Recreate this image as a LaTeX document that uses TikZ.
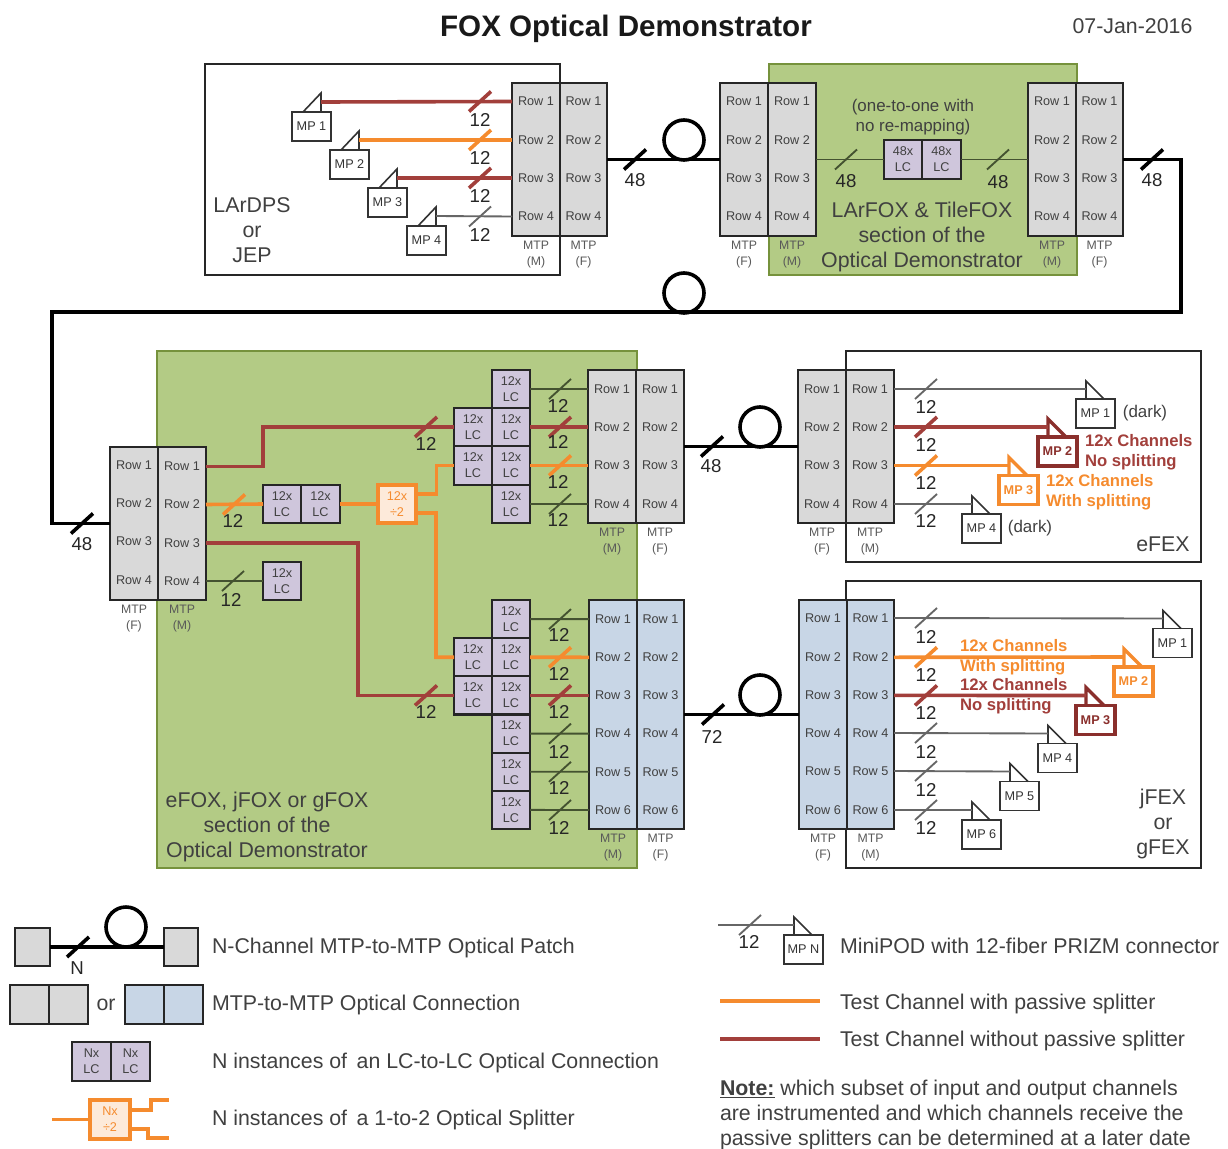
\documentclass[tikz,border=0pt]{standalone}
\usepackage{fontspec}
\setmainfont{Liberation Sans}
\definecolor{cgray}{HTML}{D9D9D9}
\definecolor{cblue}{HTML}{C8D6E6}
\definecolor{cpurp}{HTML}{CFC6DC}
\definecolor{cgreen}{HTML}{B3CB85}
\definecolor{cgreenb}{HTML}{76923C}
\definecolor{cred}{HTML}{A23F3B}
\definecolor{credd}{HTML}{8A2F2C}
\definecolor{corg}{HTML}{F58B2E}
\definecolor{corgl}{HTML}{FDEADA}
\definecolor{ctxt}{HTML}{404040}
\definecolor{cthin}{HTML}{666666}
\definecolor{cthing}{HTML}{445230}
\def\U{0.75pt}
\newcounter{lbl}
\tikzset{
  every node/.style={inner sep=0pt,outer sep=0pt,text=ctxt},
  base/.style={draw=black!85,line width=1.7pt},
  gbox/.style={base,fill=cgray},
  bbox/.style={base,fill=cblue},
  lcbox/.style={base,fill=cpurp,align=center,font=\fontsize{9.5}{12}\selectfont},
  splbox/.style={draw=corg,line width=2.3pt,fill=corgl,align=center,text=corg,font=\fontsize{9.5}{12}\selectfont},
  frame/.style={draw=black!85,line width=1.6pt},
  greenbg/.style={draw=cgreenb,line width=2pt,fill=cgreen},
  rowtxt/.style={font=\fontsize{9.5}{11}\selectfont},
  mtplab/.style={font=\fontsize{9.2}{12}\selectfont,align=center,text=black!65},
  num/.style={font=\fontsize{14}{16}\selectfont,text=black!85},
  big/.style={font=\fontsize{16}{19}\selectfont,align=center},
  body/.style={font=\fontsize{16}{18.7}\selectfont,anchor=west},
  fib/.style={line width=2.7pt,black},
  fr/.style={line width=2.7pt,cred},
  fo/.style={line width=2.7pt,corg},
  tg/.style={line width=1.4pt,cthin},
  tk/.style={line width=1.4pt,cthing},
  loopc/.style={circle,draw=black,line width=2.7pt,minimum size={40*\U}},
  mpb/.style={draw=black!80,line width=1.2pt,fill=white,font=\fontsize{9.5}{11}\selectfont,text=black!80},
  mpred/.style={draw=credd,line width=2.4pt,fill=white,font=\fontsize{9.5}{11}\selectfont\bfseries,text=credd},
  mporg/.style={draw=corg,line width=2.4pt,fill=white,font=\fontsize{9.5}{11}\selectfont\bfseries,text=corg},
  chr/.style={font=\fontsize{12.5}{15}\selectfont\bfseries,text=cred,align=left,anchor=west},
  cho/.style={font=\fontsize{12.5}{15}\selectfont\bfseries,text=corg,align=left,anchor=west},
}
% generic rectangle node by corners
\newcommand\blk[7]{\node[#6,minimum width={(#4-#2)*\U},minimum height={(#5-#3)*\U}] (#1) at ({(#2+#4)/2},{(#3+#5)/2}) {#7};}
% one half of an MTP connector
\newcommand\mtp[8]{%
  \blk{#1}{#2}{#4}{#3}{#5}{#6}{}
  \foreach \i/\yy in #7{%
    \node[rowtxt] (#1-t\i) at ({(#2+#3)/2},\yy) {Row \i};
    \coordinate (#1-l\i) at (#2,\yy);
    \coordinate (#1-r\i) at (#3,\yy);
  }
  \node[mtplab] (#1-lab) at ({(#2+#3)/2},{#5+19}) {MTP\\(#8)};
}
% MiniPOD, triangle on left of box (fibre arrives from the left)
\newcommand\mpR[5]{%
  \blk{#1}{#2}{#3}{#2+39}{#3+29}{#4}{#5}
  \coordinate (#1-in) at ({#2+10},{#3-10});
  \draw[#4,fill=none] ({#2+10},{#3}) -- ({#2+10},{#3-18}) -- ({#2+28},{#3});
}
% MiniPOD, triangle on right side (fibre leaves to the right)
\newcommand\mpL[5]{%
  \blk{#1}{#2}{#3}{#2+39}{#3+29}{#4}{#5}
  \coordinate (#1-in) at ({#2+29},{#3-10});
  \draw[#4,fill=none] ({#2+29},{#3}) -- ({#2+29},{#3-19}) -- ({#2+11},{#3});
}
% bundle mark with count
\newcommand\fibm[6]{%
  \stepcounter{lbl}%
  \draw[#3] ({#1-11},{#2+10}) -- ({#1+11},{#2-10});
  \node[num] (lab\arabic{lbl}) at (#5,#6) {#4};
}
\begin{document}
\begin{tikzpicture}[x=0.75pt,y=-0.75pt]
\useasboundingbox (0,0) rectangle (1228,1149);
\node[font=\fontsize{22.2}{26}\selectfont\bfseries,text=black!90] (title) at (626,28.5) {FOX Optical Demonstrator};
\node[font=\fontsize{16}{18}\selectfont] (date) at (1132.5,26.5) {07-Jan-2016};

% ---------- top row backgrounds
\blk{lar}{205}{64}{560}{275}{frame,fill=white}{}
\blk{tg1}{769}{64}{1077}{275}{greenbg}{}
\def\rowsT{1/101.5,2/140,3/178,4/216.5}
\mtp{aM}{512}{560}{83}{236}{gbox}{\rowsT}{M}
\mtp{aF}{560}{607}{83}{236}{gbox}{\rowsT}{F}
\mtp{bF}{720}{768}{83}{236}{gbox}{\rowsT}{F}
\mtp{bM}{768}{816}{83}{236}{gbox}{\rowsT}{M}
\mtp{cM}{1028}{1076}{83}{236}{gbox}{\rowsT}{M}
\mtp{cF}{1076}{1123}{83}{236}{gbox}{\rowsT}{F}
\blk{tlc1}{884}{140}{922}{179}{lcbox}{48x\\LC}
\blk{tlc2}{922}{140}{961}{179}{lcbox}{48x\\LC}
\mpL{tp1}{292}{112}{mpb}{MP 1}
\mpL{tp2}{330}{150}{mpb}{MP 2}
\mpL{tp3}{368}{188}{mpb}{MP 3}
\mpL{tp4}{407}{226}{mpb}{MP 4}
\draw[fr] (tp1-in) -- (aM-l1);
\draw[fo] (tp2-in) -- (aM-l2);
\draw[fr] (tp3-in) -- (aM-l3);
\draw[tg] (tp4-in) -- (aM-l4);
\fibm{480}{101.5}{fr}{12}{480}{120}
\fibm{480}{140}{fo}{12}{480}{158}
\fibm{480}{178}{fr}{12}{480}{196}
\fibm{480}{216.5}{tg}{12}{480}{235}
\node[big] (lartxt) at (252,230) {\fontsize{16}{25.5}\selectfont LArDPS\\or\\JEP};
\draw[fib] (aF.east) -- (bF.west);
\node[loopc] (loop1) at (684,140) {};
\fibm{635}{159.5}{fib}{48}{635}{180}
\draw[tk] (bM.east) -- (tlc1.west);
\draw[tk] (tlc2.east) -- (cM.west);
\fibm{846}{159.5}{tk}{48}{846}{181}
\fibm{998}{159.5}{tk}{48}{998}{182}
\node[font=\fontsize{12.7}{15}\selectfont,align=center] (remap) at (913,117) {(one-to-one with\\no re-mapping)};
\node[big] (lfox) at (922,237) {\fontsize{16}{26}\selectfont LArFOX \& TileFOX\\section of the\\Optical Demonstrator};

% ---------- long link
\blk{tg2}{157}{351}{637}{868}{greenbg}{}
\def\rowsLF{1/465,2/503,3/541,4/580}
\def\rowsLM{1/466.5,2/504.5,3/543,4/581}
\mtp{lF}{110}{158}{447}{600}{gbox}{\rowsLF}{F}
\mtp{lM}{158}{206}{447}{600}{gbox}{\rowsLM}{M}
\coordinate (k1) at (1181,159.5);
\coordinate (k2) at (1181,312);
\coordinate (k3) at (52,312);
\coordinate (k4) at (52,523.5);
\draw[fib] (cF.east) -- (k1) -- (k2) -- (k3) -- (k4) -- (lF.west);
\node[loopc] (loop2) at (684,293) {};
\fibm{1152}{159.5}{fib}{48}{1152}{180}
\fibm{82}{523.5}{fib}{48}{82}{544}

% ---------- green block
\blk{p1}{263}{485}{301}{523}{lcbox}{12x\\LC}
\blk{p2}{301}{485}{340}{523}{lcbox}{12x\\LC}
\blk{p3}{263}{562}{301}{600}{lcbox}{12x\\LC}
\blk{spl}{378}{485}{416}{523}{splbox}{12x\\÷2}
\blk{u1}{492}{370}{530}{408}{lcbox}{12x\\LC}
\blk{u2}{492}{408}{530}{446}{lcbox}{12x\\LC}
\blk{u3}{492}{446}{530}{485}{lcbox}{12x\\LC}
\blk{u4}{492}{485}{530}{523}{lcbox}{12x\\LC}
\blk{ul1}{454}{408}{492}{446}{lcbox}{12x\\LC}
\blk{ul2}{454}{446}{492}{485}{lcbox}{12x\\LC}
\blk{d1}{492}{600}{530}{638.2}{lcbox}{12x\\LC}
\blk{d2}{492}{638.2}{530}{676.3}{lcbox}{12x\\LC}
\blk{d3}{492}{676.3}{530}{714.5}{lcbox}{12x\\LC}
\blk{d4}{492}{714.5}{530}{752.7}{lcbox}{12x\\LC}
\blk{d5}{492}{752.7}{530}{790.8}{lcbox}{12x\\LC}
\blk{d6}{492}{790.8}{530}{829}{lcbox}{12x\\LC}
\blk{dl1}{454}{638.2}{492}{676.3}{lcbox}{12x\\LC}
\blk{dl2}{454}{676.3}{492}{714.5}{lcbox}{12x\\LC}
\def\rowsU{1/389,2/427,3/465.5,4/504}
\def\rowsD{1/619.1,2/657.3,3/695.4,4/733.6,5/771.8,6/810}
\mtp{uM}{588}{636}{370}{523}{gbox}{\rowsU}{M}
\mtp{uF}{636}{684}{370}{523}{gbox}{\rowsU}{F}
\mtp{dM}{589}{637}{600}{829}{bbox}{\rowsD}{M}
\mtp{dF}{637}{684}{600}{829}{bbox}{\rowsD}{F}
% internal connectors
\coordinate (j1) at (263,427);
\draw[fr] (lM-r1) -| (j1) -- (ul1.west);
\fibm{426}{427}{fr}{12}{426}{444}
\draw[fo] (lM-r2) -- (p1.west);
\fibm{234}{504.5}{fo}{12}{233}{521}
\draw[fo] (p2.east) -- (spl.west);
\coordinate (s1) at (416,494);
\coordinate (s2) at (416,513);
\coordinate (j2) at (436.5,465.5);
\coordinate (j3) at (436,657.3);
\draw[fo] (s1) -| (j2) -- (ul2.west);
\draw[fo] (s2) -| (j3) -- (dl1.west);
\coordinate (j4) at (358,695.4);
\draw[fr] (lM-r3) -| (j4) -- (dl2.west);
\fibm{426}{695.4}{fr}{12}{426}{712}
\draw[tk] (lM-r4) -- (p3.west);
\fibm{233}{581}{tk}{12}{231}{600}
\draw[tk] (u1.east) -- (uM-l1);
\draw[fr] (u2.east) -- (uM-l2);
\draw[fo] (u3.east) -- (uM-l3);
\draw[tk] (u4.east) -- (uM-l4);
\fibm{560}{389}{tk}{12}{558}{406}
\fibm{560}{427}{fr}{12}{558}{442}
\fibm{560}{465.5}{fo}{12}{558}{482}
\fibm{560}{504}{tk}{12}{558}{520}
\draw[tk] (d1.east) -- (dM-l1);
\draw[fo] (d2.east) -- (dM-l2);
\draw[fr] (d3.east) -- (dM-l3);
\draw[tk] (d4.east) -- (dM-l4);
\draw[tk] (d5.east) -- (dM-l5);
\draw[tk] (d6.east) -- (dM-l6);
\fibm{560}{619.1}{tk}{12}{559}{635}
\fibm{560}{657.3}{fo}{12}{559}{674}
\fibm{560}{695.4}{fr}{12}{559}{712}
\fibm{560}{733.6}{tk}{12}{559}{752}
\fibm{560}{771.8}{tk}{12}{559}{788}
\fibm{560}{810}{tk}{12}{559}{828}
\node[big] (gtxt) at (267,827) {\fontsize{16}{25.5}\selectfont eFOX, jFOX or gFOX\\section of the\\Optical Demonstrator};

% ---------- eFEX
\blk{efex}{846}{351}{1201}{562}{frame}{}
\mtp{eF}{798}{846}{370}{523}{gbox}{\rowsU}{F}
\mtp{eM}{846}{894}{370}{523}{gbox}{\rowsU}{M}
\draw[fib] (uF.east) -- (eF.west);
\node[loopc] (loop3) at (760,427) {};
\fibm{712}{446.5}{fib}{48}{711}{466}
\mpR{ep1}{1076}{399}{mpb}{MP 1}
\mpR{ep2}{1038}{437}{mpred}{MP 2}
\mpR{ep3}{999}{475.5}{mporg}{MP 3}
\mpR{ep4}{962}{514}{mpb}{MP 4}
\draw[tg] (eM-r1) -- (ep1-in);
\draw[fr] (eM-r2) -- (ep2-in);
\draw[fo] (eM-r3) -- (ep3-in);
\draw[tg] (eM-r4) -- (ep4-in);
\fibm{926}{389}{tg}{12}{926}{407}
\fibm{926}{427}{fr}{12}{926}{445}
\fibm{926}{465.5}{fo}{12}{926}{483}
\fibm{926}{504}{tg}{12}{926}{521}
\node[font=\fontsize{12.7}{15}\selectfont] (dk1) at (1145,413) {(dark)};
\node[font=\fontsize{12.7}{15}\selectfont] (dk2) at (1030,528) {(dark)};
\node[chr] (ct1) at (1085,452) {12x Channels\\No splitting};
\node[cho] (ct2) at (1046,492.5) {12x Channels\\With splitting};
\node[big] (eftxt) at (1163,544) {eFEX};

% ---------- jFEX
\blk{jfex}{846}{581}{1201}{868}{frame}{}
\def\rowsJ{1/618,2/657.3,3/695.4,4/733,5/771,6/810}
\mtp{jF}{799}{847}{600}{829}{bbox}{\rowsJ}{F}
\mtp{jM}{847}{894}{600}{829}{bbox}{\rowsJ}{M}
\draw[fib] (dF.east) -- (jF.west);
\node[loopc] (loop4) at (760,695) {};
\fibm{713}{714.5}{fib}{72}{712}{737}
\mpR{jp1}{1153}{628.5}{mpb}{MP 1}
\mpR{jp2}{1114}{667}{mporg}{MP 2}
\mpR{jp3}{1076}{705.5}{mpred}{MP 3}
\mpR{jp4}{1038}{743.5}{mpb}{MP 4}
\mpR{jp5}{1000}{781.5}{mpb}{MP 5}
\mpR{jp6}{962}{820}{mpb}{MP 6}
\draw[tg] (jM-r1) -- (jp1-in);
\draw[fo] (jM-r2) -- (jp2-in);
\draw[fr] (jM-r3) -- (jp3-in);
\draw[tg] (jM-r4) -- (jp4-in);
\draw[tg] (jM-r5) -- (jp5-in);
\draw[tg] (jM-r6) -- (jp6-in);
\fibm{926}{618}{tg}{12}{926}{637}
\fibm{926}{657.3}{fo}{12}{926}{675}
\fibm{926}{695.4}{fr}{12}{926}{713}
\fibm{926}{733}{tg}{12}{926}{752}
\fibm{926}{771}{tg}{12}{926}{790}
\fibm{926}{810}{tg}{12}{926}{828}
\node[cho] (ct3) at (960,657.5) {12x Channels\\With splitting};
\node[chr] (ct4) at (960,696.5) {12x Channels\\No splitting};
\node[big] (jftxt) at (1163,824) {\fontsize{16}{25.5}\selectfont jFEX\\or\\gFEX};

% ---------- legend left
\blk{lg1}{15}{928}{50}{966}{gbox}{}
\blk{lg2}{164}{928}{198}{966}{gbox}{}
\draw[fib] (lg1.east) -- (lg2.west);
\node[loopc] (loop5) at (126,927) {};
\fibm{78}{947}{fib}{N}{77}{968}
\blk{lg3}{10}{985}{49}{1024}{gbox}{}
\blk{lg4}{49}{985}{88}{1024}{gbox}{}
\node[font=\fontsize{16}{18}\selectfont] (lgor) at (106,1005) {or};
\blk{lg5}{125}{985}{164}{1024}{bbox}{}
\blk{lg6}{164}{985}{203}{1024}{bbox}{}
\blk{lg7}{72}{1042}{111}{1081}{lcbox}{Nx\\LC}
\blk{lg8}{111}{1042}{150}{1081}{lcbox}{Nx\\LC}
\blk{lg9}{90}{1100}{130}{1139}{splbox}{Nx\\÷2}
\coordinate (q0) at (52,1119.5);
\coordinate (q1) at (130,1110);
\coordinate (q2) at (151,1100);
\coordinate (q3) at (169,1100);
\coordinate (q4) at (130,1129);
\coordinate (q5) at (148,1138);
\coordinate (q6) at (169,1138);
\draw[fo] (q0) -- (lg9.west);
\draw[fo] (q1) -| (q2) -- (q3);
\draw[fo] (q4) -| (q5) -- (q6);
\node[body] (lt1) at (212,948) {N-Channel MTP-to-MTP Optical Patch};
\node[body] (lt2) at (212,1005) {MTP-to-MTP Optical Connection};
\node[body] (lt3) at (212,1063) {N instances of\,\ an LC-to-LC Optical Connection};
\node[body] (lt4) at (212,1120) {N instances of\,\ a 1-to-2 Optical Splitter};

% ---------- legend right
\mpR{lmp}{784}{935}{mpb}{MP N}
\coordinate (r0) at (718,925);
\draw[tg] (r0) -- (lmp-in);
\fibm{750}{925}{tg}{12}{749}{942}
\node[body] (rt1) at (840,946) {MiniPOD with 12-fiber PRIZM connector};
\coordinate (r1) at (720,1001);
\coordinate (r2) at (820,1001);
\coordinate (r3) at (720,1039);
\coordinate (r4) at (820,1039);
\draw[fo] (r1) -- (r2);
\draw[fr] (r3) -- (r4);
\node[body] (rt2) at (840,1004) {Test Channel with passive splitter};
\node[body] (rt3) at (840,1041) {Test Channel without passive splitter};
\node[body,align=left] (note) at (720,1115) {\underline{\textbf{Note:}} which subset of input and output channels\\are instrumented and which channels receive the\\passive splitters can be determined at a later date};
\end{tikzpicture}
\end{document}
